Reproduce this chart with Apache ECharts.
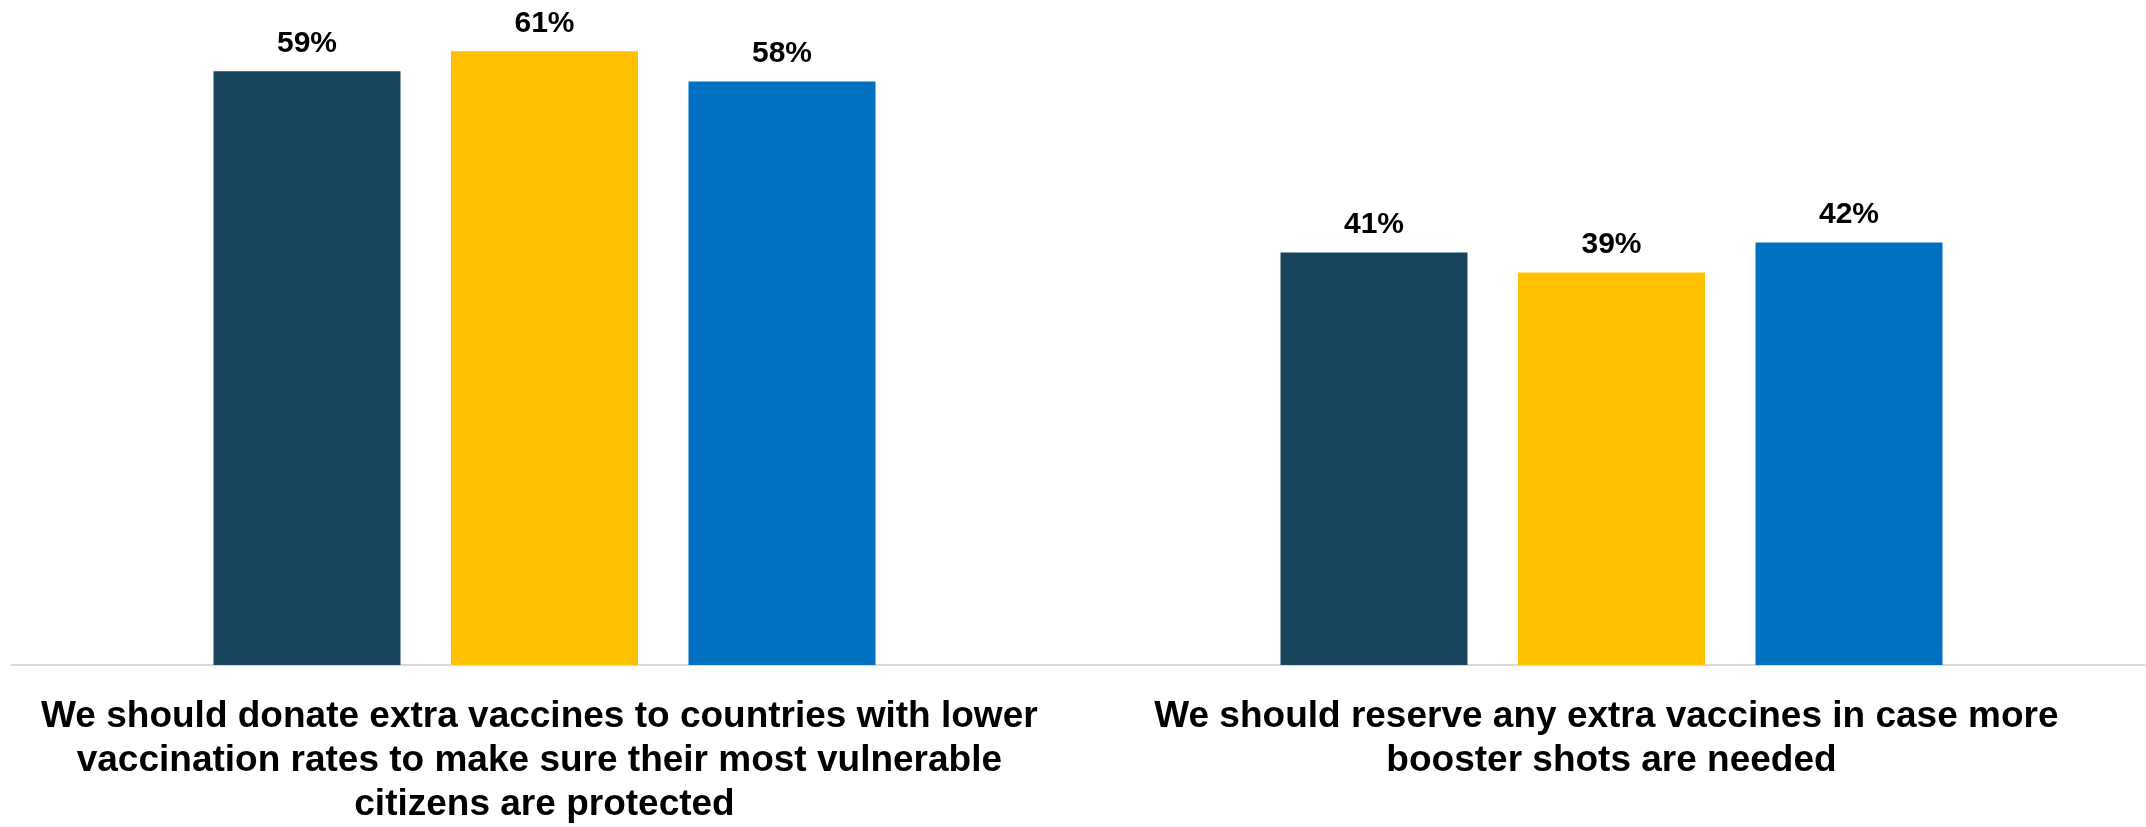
<!DOCTYPE html>
<html>
<head>
<meta charset="utf-8">
<script src="https://cdn.jsdelivr.net/npm/echarts@6/dist/echarts.min.js"></script>
<style>
html,body{margin:0;padding:0;background:#fff;}
#chart{width:2146px;height:827px;}
</style>
</head>
<body>
<div id="chart"></div>
<script>
const categories = [
  "We should donate extra vaccines to countries with lower vaccination rates to make sure their most vulnerable citizens are protected",
  "We should reserve any extra vaccines in case more booster shots are needed"
];
const seriesNames = ["Group 1", "Group 2", "Group 3"];
const seriesA = [59, 41];
const seriesB = [61, 39];
const seriesC = [58, 42];
const colors = ["#17455E", "#FFC000", "#0070C0"];

const FONT = "'Liberation Sans', Arial, sans-serif";
const chart = echarts.init(document.getElementById('chart'), null, {renderer: 'canvas'});

function makeSeries(name, data, color) {
  return {
    name: name,
    type: 'bar',
    data: data,
    barWidth: 187,
    barGap: '27%',
    itemStyle: {color: color},
    label: {
      show: true,
      position: 'top',
      distance: 13,
      formatter: '{c}%',
      color: '#000',
      fontFamily: FONT,
      fontWeight: 'bold',
      fontSize: 30,
      lineHeight: 30
    }
  };
}

chart.setOption({
  animation: false,
  backgroundColor: '#fff',
  grid: {left: 11, right: 1, top: 11, bottom: 160, containLabel: false},
  xAxis: {
    type: 'category',
    data: categories,
    axisLine: {show: true, lineStyle: {color: '#D9D9D9', width: 2}},
    axisTick: {show: false},
    axisLabel: {
      interval: 0,
      margin: 30,
      color: '#000',
      fontFamily: FONT,
      fontWeight: 'bold',
      fontSize: 37,
      lineHeight: 44,
      width: 1040,
      overflow: 'break',
      align: 'center'
    }
  },
  yAxis: {
    type: 'value',
    min: 0,
    max: 65,
    show: false,
    splitLine: {show: false}
  },
  series: [
    makeSeries(seriesNames[0], seriesA, colors[0]),
    makeSeries(seriesNames[1], seriesB, colors[1]),
    makeSeries(seriesNames[2], seriesC, colors[2])
  ]
});
</script>
</body>
</html>
